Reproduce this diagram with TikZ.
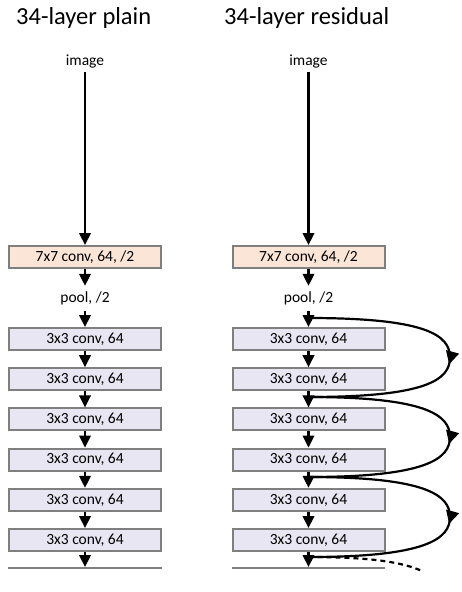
\documentclass[tikz,border=0pt]{standalone}
\usepackage{fontspec}
\setmainfont{Carlito}
\usetikzlibrary{arrows.meta,decorations.markings}
\definecolor{peach}{RGB}{251,229,214}
\definecolor{lav}{RGB}{232,230,242}
\definecolor{edgegray}{RGB}{127,127,127}
\begin{document}
\begin{tikzpicture}[x=1pt,y=-1pt,
  layer/.style={draw=edgegray, line width=2pt, minimum width=152pt, minimum height=22pt, inner sep=0pt, font=\fontsize{15.5}{17}\selectfont},
  convbox/.style={layer, fill=lav},
  firstbox/.style={layer, fill=peach},
  lbl/.style={font=\fontsize{15.5}{17}\selectfont, inner xsep=0pt, inner ysep=4pt},
  ttl/.style={font=\fontsize{24.5}{28}\selectfont, inner sep=0pt, anchor=base west},
  arr/.style={line width=2.2pt, -{Triangle[width=11.5pt,length=12pt]}},
  skip/.style={line width=2.2pt, postaction={decorate}, decoration={markings, mark=at position 0.522 with {\arrow{Triangle[width=13pt,length=13pt]}}}},
  cut/.style={draw=edgegray, line width=2pt},
]
\useasboundingbox (0,0) rectangle (462,592);

% titles
\node[ttl] (tplain) at (16,24) {34-layer plain};
\node[ttl] (tres) at (224,24) {34-layer residual};

% ---------- plain column ----------
\node[lbl, anchor=base] (imgL) at (85,65) {image};
\node[firstbox] (c7L) at (85,257) {7x7 conv, 64, /2};
\node[lbl, inner ysep=0pt, minimum height=25pt] (poolL) at (85,298.5) {pool, /2};
\node[convbox] (aL1) at (85,339) {3x3 conv, 64};
\node[convbox] (aL2) at (85,379.2) {3x3 conv, 64};
\node[convbox] (aL3) at (85,419.4) {3x3 conv, 64};
\node[convbox] (aL4) at (85,459.6) {3x3 conv, 64};
\node[convbox] (aL5) at (85,499.8) {3x3 conv, 64};
\node[convbox] (aL6) at (85,540) {3x3 conv, 64};
\coordinate (cutLa) at (8,568);
\coordinate (cutLb) at (162,568);
\coordinate (cutLm) at (85,567);
\draw[cut] (cutLa) -- (cutLb);

\draw[arr] (imgL.south) -- (c7L.north);
\draw[arr] (c7L.south) -- (poolL.north);
\draw[arr] (poolL.south) -- (aL1.north);
\draw[arr] (aL1.south) -- (aL2.north);
\draw[arr] (aL2.south) -- (aL3.north);
\draw[arr] (aL3.south) -- (aL4.north);
\draw[arr] (aL4.south) -- (aL5.north);
\draw[arr] (aL5.south) -- (aL6.north);
\draw[arr] (aL6.south) -- (cutLm);

% ---------- residual column ----------
\node[lbl, anchor=base] (imgR) at (308.5,65) {image};
\node[firstbox] (c7R) at (308.5,257) {7x7 conv, 64, /2};
\node[lbl, inner ysep=0pt, minimum height=25pt] (poolR) at (308.5,298.5) {pool, /2};
\node[convbox] (aR1) at (308.5,339) {3x3 conv, 64};
\node[convbox] (aR2) at (308.5,379.2) {3x3 conv, 64};
\node[convbox] (aR3) at (308.5,419.4) {3x3 conv, 64};
\node[convbox] (aR4) at (308.5,459.6) {3x3 conv, 64};
\node[convbox] (aR5) at (308.5,499.8) {3x3 conv, 64};
\node[convbox] (aR6) at (308.5,540) {3x3 conv, 64};
\coordinate (cutRa) at (232,568);
\coordinate (cutRb) at (385,568);
\coordinate (cutRm) at (308.5,567);
\draw[cut] (cutRa) -- (cutRb);

\draw[arr] (imgR.south) -- (c7R.north);
\draw[arr] (c7R.south) -- (poolR.north);
\draw[arr] (poolR.south) -- (aR1.north);
\draw[arr] (aR1.south) -- (aR2.north);
\draw[arr] (aR2.south) -- (aR3.north);
\draw[arr] (aR3.south) -- (aR4.north);
\draw[arr] (aR4.south) -- (aR5.north);
\draw[arr] (aR5.south) -- (aR6.north);
\draw[arr] (aR6.south) -- (cutRm);

% skip connections
\coordinate (j0) at (308.5,318);
\coordinate (j1) at (308.5,397);
\coordinate (j2) at (308.5,477);
\coordinate (j3) at (308.5,557);
\coordinate (dend) at (422,571);
\draw[skip] (j0) .. controls (426,318) and (450,335) .. (450,357.5) .. controls (450,380) and (426,397) .. (j1);
\draw[skip] (j1) .. controls (426,397) and (450,415) .. (450,437) .. controls (450,459) and (426,477) .. (j2);
\draw[skip] (j2) .. controls (426,477) and (450,495) .. (450,517) .. controls (450,539) and (426,557) .. (j3);
\draw[line width=2.2pt, dash pattern=on 5pt off 4pt] (j3) .. controls (370,557) and (402,562) .. (dend);
\end{tikzpicture}
\end{document}
